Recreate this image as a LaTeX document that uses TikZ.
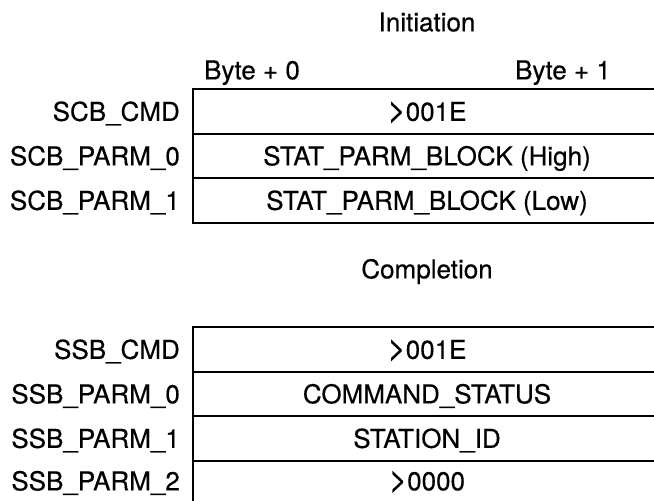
\documentclass[tikz,border=0pt]{standalone}
\usepackage{fontspec}
\setmainfont{TeX Gyre Heros}[FakeBold=0.4]
\newcommand\gtsym{\scalebox{1.2}[1.3]{>}}
\begin{document}
\begin{tikzpicture}[x=1bp,y=-1bp,
  txt/.style={inner sep=0pt,font=\fontsize{26bp}{30bp}\selectfont,text height=18.7bp,text depth=0bp,anchor=center},
  lbl/.style={txt,anchor=east},
  rule/.style={line width=1.8bp,line cap=rect}]
\useasboundingbox (0,0) rectangle (654,501);
% Initiation table
\node[txt] (ttl1) at (427,22) {Initiation};
\node[txt] (b0) at (252,70) {Byte + 0};
\node[txt] (b1) at (563,70) {Byte + 1};
\coordinate (a0) at (193,89);
\coordinate (a1) at (193,134);
\coordinate (a2) at (193,178);
\coordinate (a3) at (193,223);
\draw[rule] (a0) -- (a3);
\foreach \c in {a0,a1,a2,a3} \draw[rule] (\c) -- (\c -| 656,0);
\node[lbl] (l1) at (180,111.5) {SCB\_CMD};
\node[lbl] (l2) at (180,156) {SCB\_PARM\_0};
\node[lbl] (l3) at (180,200.5) {SCB\_PARM\_1};
\node[txt] (c1) at (427,111.5) {\gtsym001E};
\node[txt] (c2) at (427,156) {STAT\_PARM\_BLOCK (High)};
\node[txt] (c3) at (427,200.5) {STAT\_PARM\_BLOCK (Low)};
% Completion table
\node[txt] (ttl2) at (427,269) {Completion};
\coordinate (d0) at (193,327);
\coordinate (d1) at (193,372);
\coordinate (d2) at (193,416);
\coordinate (d3) at (193,461);
\coordinate (d4) at (193,503);
\draw[rule] (d0) -- (d4);
\foreach \c in {d0,d1,d2,d3} \draw[rule] (\c) -- (\c -| 656,0);
\node[lbl] (m1) at (180,349.5) {SSB\_CMD};
\node[lbl] (m2) at (180,394) {SSB\_PARM\_0};
\node[lbl] (m3) at (180,438.5) {SSB\_PARM\_1};
\node[lbl] (m4) at (180,481) {SSB\_PARM\_2};
\node[txt] (e1) at (427,349.5) {\gtsym001E};
\node[txt] (e2) at (427,394) {COMMAND\_STATUS};
\node[txt] (e3) at (427,438.5) {STATION\_ID};
\node[txt] (e4) at (427,481) {\gtsym0000};
\end{tikzpicture}
\end{document}
